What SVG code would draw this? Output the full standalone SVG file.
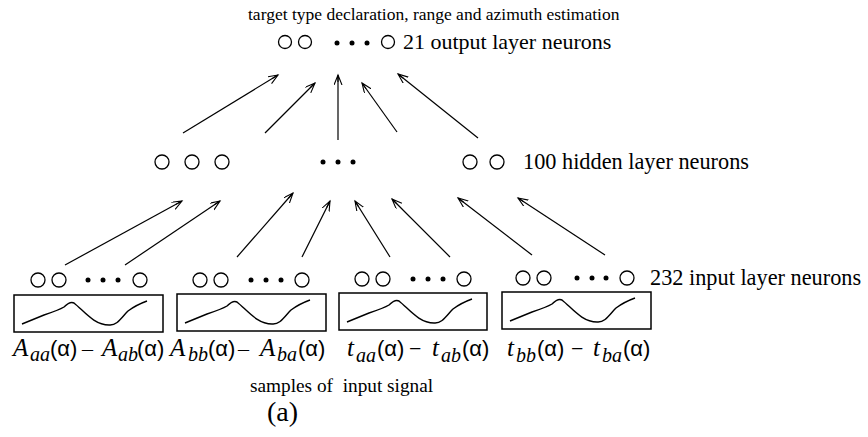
<svg xmlns="http://www.w3.org/2000/svg" width="868" height="437" viewBox="0 0 868 437">
<style>
.t{font-family:"Liberation Serif","Times New Roman",serif;fill:#000}
.n{fill:none;stroke:#000;stroke-width:1.3}
.d{fill:#000}
.box{fill:none;stroke:#000;stroke-width:1.5}
.sig{fill:none;stroke:#000;stroke-width:1.4}
.c{stroke:#000;stroke-width:1.2;fill:none;marker-end:url(#ah)}
.it{font-style:italic;font-size:25px}
.sb{font-style:italic;font-size:20px}
.al{font-family:"Liberation Sans",Arial,sans-serif;font-size:22px}
.ds{font-size:22px}
</style>
<defs>
<marker id="ah" markerWidth="12" markerHeight="10" refX="10" refY="4" orient="auto" markerUnits="userSpaceOnUse">
<path d="M0,0 L10,4 L0,8 M3,4 L10,4" fill="none" stroke="#000" stroke-width="1.1"/>
</marker>
<path id="curve" d="M8,29 L30,20 Q45,15 50,12 Q56,6 60,8 C70,16 80,30 95,30 C103,31 108,22 114,16 Q122,10 133,6"/>
</defs>
<rect width="868" height="437" fill="#fff"/>

<text class="t" x="248" y="20" font-size="17.5">target type declaration, range and azimuth estimation</text>

<g id="output-layer">
<circle class="n" cx="285" cy="42" r="6.5"/>
<circle class="n" cx="305" cy="42" r="6.5"/>
<circle class="d" cx="337" cy="43" r="2.5"/>
<circle class="d" cx="352" cy="43" r="2.5"/>
<circle class="d" cx="367" cy="43" r="2.5"/>
<circle class="n" cx="388" cy="42" r="6.5"/>
<text class="t" x="403" y="49" font-size="22">21 output layer neurons</text>
</g>

<g id="hidden-layer">
<circle class="n" cx="162" cy="162" r="7"/>
<circle class="n" cx="192" cy="162" r="7"/>
<circle class="n" cx="222" cy="162" r="7"/>
<circle class="d" cx="323" cy="162" r="2.5"/>
<circle class="d" cx="338" cy="162" r="2.5"/>
<circle class="d" cx="353" cy="162" r="2.5"/>
<circle class="n" cx="470" cy="162" r="7"/>
<circle class="n" cx="497" cy="162" r="7"/>
<text class="t" x="523" y="169" font-size="22.3">100 hidden layer neurons</text>
</g>

<g id="input-layer">
<g id="input-group-1">
<circle class="n" cx="38" cy="280" r="7"/>
<circle class="n" cx="59" cy="280" r="7"/>
<circle class="d" cx="88" cy="280" r="2.5"/>
<circle class="d" cx="103" cy="280" r="2.5"/>
<circle class="d" cx="118" cy="280" r="2.5"/>
<circle class="n" cx="140" cy="280" r="7"/>
</g>
<g id="input-group-2">
<circle class="n" cx="200" cy="280" r="7"/>
<circle class="n" cx="221" cy="280" r="7"/>
<circle class="d" cx="251" cy="280" r="2.5"/>
<circle class="d" cx="266" cy="280" r="2.5"/>
<circle class="d" cx="281" cy="280" r="2.5"/>
<circle class="n" cx="302" cy="280" r="7"/>
</g>
<g id="input-group-3">
<circle class="n" cx="362" cy="279" r="7"/>
<circle class="n" cx="383" cy="279" r="7"/>
<circle class="d" cx="413" cy="279" r="2.5"/>
<circle class="d" cx="428" cy="279" r="2.5"/>
<circle class="d" cx="443" cy="279" r="2.5"/>
<circle class="n" cx="464" cy="279" r="7"/>
</g>
<g id="input-group-4">
<circle class="n" cx="523" cy="278" r="7"/>
<circle class="n" cx="544" cy="278" r="7"/>
<circle class="d" cx="577" cy="278" r="2.5"/>
<circle class="d" cx="592" cy="278" r="2.5"/>
<circle class="d" cx="606" cy="278" r="2.5"/>
<circle class="n" cx="627" cy="278" r="7"/>
</g>
<text class="t" x="650" y="285" font-size="22.3">232 input layer neurons</text>
</g>

<g id="signal-1">
<rect class="box" x="14" y="295" width="149" height="37"/>
<use href="#curve" class="sig" transform="translate(14,295)"/>
</g>
<g id="signal-2">
<rect class="box" x="177" y="294" width="149" height="37"/>
<use href="#curve" class="sig" transform="translate(177,294)"/>
</g>
<g id="signal-3">
<rect class="box" x="339" y="293" width="148" height="37"/>
<use href="#curve" class="sig" transform="translate(339,293)"/>
</g>
<g id="signal-4">
<rect class="box" x="502" y="292" width="149" height="37"/>
<use href="#curve" class="sig" transform="translate(502,292)"/>
</g>

<g id="connectors">
<line class="c" x1="183" y1="133" x2="278" y2="75"/>
<line class="c" x1="265" y1="133" x2="315" y2="83"/>
<line class="c" x1="338" y1="140" x2="338" y2="75"/>
<line class="c" x1="397" y1="132" x2="362" y2="83"/>
<line class="c" x1="478" y1="138" x2="398" y2="74"/>
<line class="c" x1="65" y1="265" x2="182" y2="201"/>
<line class="c" x1="125" y1="265" x2="220" y2="201"/>
<line class="c" x1="237" y1="257" x2="293" y2="193"/>
<line class="c" x1="302" y1="257" x2="330" y2="201"/>
<line class="c" x1="390" y1="257" x2="355" y2="201"/>
<line class="c" x1="450" y1="257" x2="392" y2="199"/>
<line class="c" x1="532" y1="255" x2="458" y2="198"/>
<line class="c" x1="605" y1="255" x2="518" y2="198"/>
</g>

<g id="labels">
<text class="t"><tspan class="it" x="13" y="356">A</tspan><tspan class="sb" x="30" y="361">aa</tspan><tspan class="al" x="50" y="356">(α)</tspan><tspan class="ds" x="82" y="356">–</tspan><tspan class="it" x="102" y="356">A</tspan><tspan class="sb" x="118" y="361">ab</tspan><tspan class="al" x="137" y="356">(α)</tspan></text>
<text class="t"><tspan class="it" x="170" y="356">A</tspan><tspan class="sb" x="188" y="361">bb</tspan><tspan class="al" x="208" y="356">(α)</tspan><tspan class="ds" x="238" y="356">–</tspan><tspan class="it" x="260" y="356">A</tspan><tspan class="sb" x="277" y="361">ba</tspan><tspan class="al" x="298" y="356">(α)</tspan></text>
<text class="t"><tspan class="it" x="347" y="356">t</tspan><tspan class="sb" x="356" y="362">aa</tspan><tspan class="al" x="377" y="356">(α)</tspan><tspan class="ds" x="409" y="356">−</tspan><tspan class="it" x="432" y="356">t</tspan><tspan class="sb" x="441" y="362">ab</tspan><tspan class="al" x="462" y="356">(α)</tspan></text>
<text class="t"><tspan class="it" x="507" y="356">t</tspan><tspan class="sb" x="516" y="362">bb</tspan><tspan class="al" x="537" y="356">(α)</tspan><tspan class="ds" x="571" y="356">−</tspan><tspan class="it" x="593" y="356">t</tspan><tspan class="sb" x="602" y="362">ba</tspan><tspan class="al" x="623" y="356">(α)</tspan></text>
<text class="t" x="250" y="392" font-size="19.3">samples of&#160; input signal</text>
<text class="t" x="267" y="421" font-size="28">(a)</text>
</g>
</svg>
